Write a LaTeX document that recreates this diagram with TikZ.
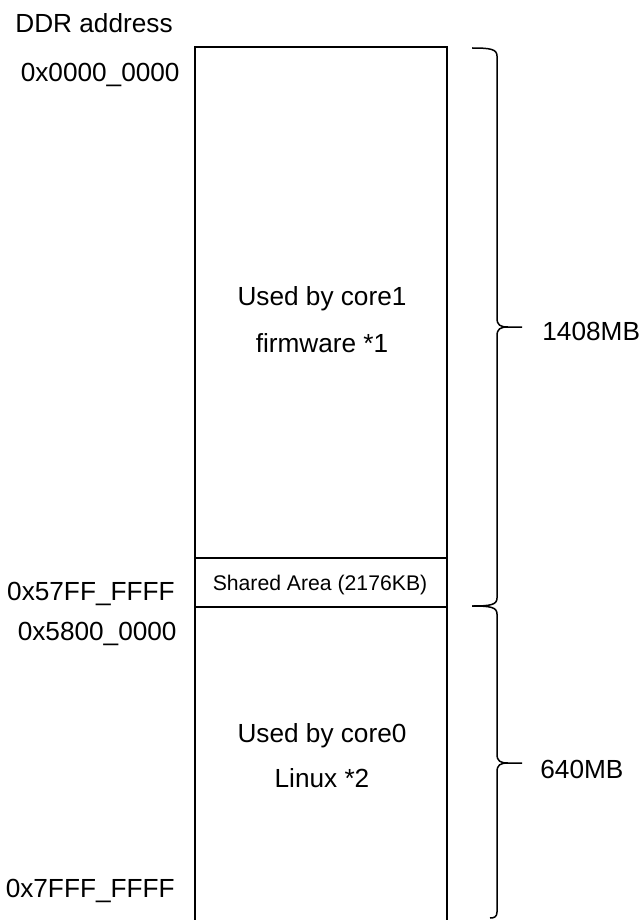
\documentclass[tikz,border=0pt]{standalone}
\usepackage{fontspec}
\setmainfont{Liberation Sans}
\usetikzlibrary{positioning}

\begin{document}
\begin{tikzpicture}[
    x=0.5pt, y=-0.5pt,
    txt/.style={inner sep=0pt, font=\fontsize{13.1}{15}\selectfont},
    addr/.style={txt, anchor=base east},
    memtext/.style={txt, anchor=base},
    sizetext/.style={txt, anchor=base west},
    memline/.style={line width=1pt},
    bracepath/.style={line width=0.75pt},
]
\useasboundingbox (0,0) rectangle (641,920);

% memory map
\coordinate (mtl) at (195,47);
\coordinate (mbr) at (447,925);
\draw[memline] (195,925) -- (mtl) -- (447,47) -- (mbr);
\draw[memline] (195,558) -- (447,558);
\draw[memline] (195,607) -- (447,607);

\node[txt, anchor=base west] (title) at (15,33) {DDR address};
\node[addr] (a0) at (180,82) {0x0000\_0000};
\node[addr] (a1) at (175,600) {0x57FF\_FFFF};
\node[addr] (a2) at (177,640) {0x5800\_0000};
\node[addr] (a3) at (175,897) {0x7FFF\_FFFF};

\node[memtext] (fw1) at (322,305) {Used by core1};
\node[memtext] (fw2) at (322,352) {firmware *1};
\node[memtext, font=\fontsize{10.6}{12}\selectfont] (shm) at (320,590) {Shared Area (2176KB)};
\node[memtext] (lx1) at (322,742) {Used by core0};
\node[memtext] (lx2) at (322,787) {Linux *2};

% braces
\coordinate (b1s) at (472,48);
\coordinate (b1t) at (522,327);
\coordinate (b1e) at (472,606);
\coordinate (b2t) at (522,763);
\coordinate (b2e) at (490,918);

\draw[bracepath] (b1s) .. controls (490,48) and (497,49) .. (497,56) -- (497,318)
    .. controls (497,325) and (500,327) .. (508,327) -- (b1t);
\draw[bracepath] (508,327) .. controls (500,327) and (497,329) .. (497,336) -- (497,598)
    .. controls (497,605) and (490,606) .. (b1e);
\draw[bracepath] (b1e) .. controls (490,606) and (497,607) .. (497,614) -- (497,754)
    .. controls (497,761) and (500,763) .. (508,763) -- (b2t);
\draw[bracepath] (508,763) .. controls (500,763) and (497,765) .. (497,772) -- (497,912)
    .. controls (497,917) and (494,918) .. (b2e);

\node[sizetext] (s1) at (542,340) {1408MB};
\node[sizetext] (s2) at (540,778) {640MB};
\end{tikzpicture}
\end{document}
